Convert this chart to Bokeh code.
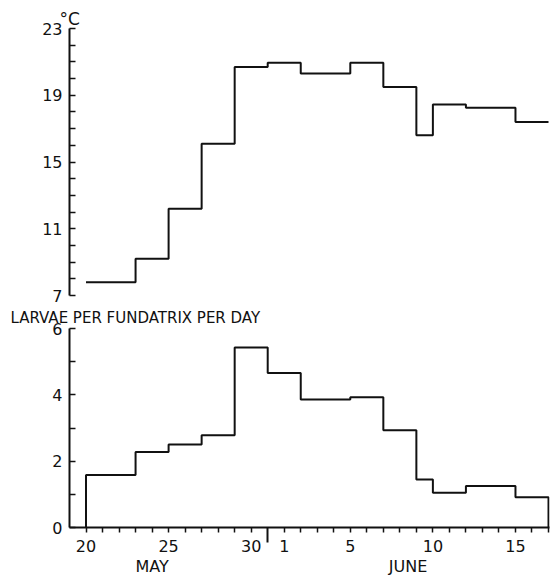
from bokeh.plotting import figure
from bokeh.layouts import column
from bokeh.models import FixedTicker, Range1d, LinearAxis
from bokeh.embed import file_html
from bokeh.resources import INLINE

# ---- data (day index: 0 = 20 May, 12 = 1 June) ----
edges = [0, 3, 5, 7, 9, 11, 13, 16, 18, 20, 21, 23, 26, 28]
temperature = [7.8, 9.2, 12.2, 16.1, 20.7, 20.95, 20.3, 20.95, 19.5, 16.6, 18.45, 18.25, 17.4]
larvae = [1.58, 2.28, 2.5, 2.78, 5.43, 4.66, 3.86, 3.93, 2.93, 1.45, 1.05, 1.25, 0.91]

month_boundary = [11]
day_ticks = [d for d in range(0, 29) if d not in month_boundary]
label_days = [0, 5, 10, 12, 16, 21, 26]
label_texts = ["20", "25", "30", "1", "5", "10", "15"]
month_names = ["MAY", "JUNE"]
month_pos = [4, 19.5]

temp_ticks = list(range(7, 24))
temp_labels = [7, 11, 15, 19, 23]
larvae_ticks = list(range(0, 7))
larvae_labels = [0, 2, 4, 6]

FONT = "DejaVu Sans"
INK = "#111111"

def steps(e, v):
    xs, ys = [], []
    for i, val in enumerate(v):
        xs += [e[i], e[i + 1]]
        ys += [val, val]
    return xs, ys

def style_y(ax, ticks, labels):
    ax.ticker = FixedTicker(ticks=ticks)
    ax.major_label_overrides = {t: (str(t) if t in labels else "") for t in ticks}
    ax.major_tick_in = 6
    ax.major_tick_out = 0
    ax.minor_tick_line_color = None
    ax.axis_line_width = 2
    ax.axis_line_color = INK
    ax.major_tick_line_color = INK
    ax.major_tick_line_width = 1.5
    ax.major_label_standoff = 7
    ax.major_label_text_font = FONT
    ax.major_label_text_font_size = "16px"
    ax.major_label_text_color = INK

xr = Range1d(-1, 28.06)

# ---- top panel: temperature ----
top = figure(width=550, height=305, x_range=xr, y_range=Range1d(7, 23),
             output_backend="svg", toolbar_location=None, x_axis_location=None,
             min_border_left=69, min_border_right=1, min_border_top=28, min_border_bottom=10)
top.outline_line_color = None
top.grid.visible = False
tx, ty = steps(edges, temperature)
top.line(tx, ty, line_color=INK, line_width=2)
style_y(top.yaxis[0], temp_ticks, temp_labels)
top.title.text = "°C"
top.title.align = "left"
top.title.offset = -10
top.title.standoff = 0
top.title.text_font = FONT
top.title.text_font_size = "17px"
top.title.text_font_style = "normal"
top.title.text_color = INK

# ---- bottom panel: larvae ----
bot = figure(width=550, height=274, x_range=xr, y_range=Range1d(0, 6),
             output_backend="svg", toolbar_location=None,
             min_border_left=69, min_border_right=1, min_border_top=22, min_border_bottom=52)
bot.outline_line_color = None
bot.grid.visible = False
bx, by = steps(edges, larvae)
bx = [edges[0]] + bx + [edges[-1]]
by = [0] + by + [0]
bot.line(bx, by, line_color=INK, line_width=2)
style_y(bot.yaxis[0], larvae_ticks, larvae_labels)

bot.title.text = "LARVAE PER FUNDATRIX PER DAY"
bot.title.align = "left"
bot.title.offset = -59
bot.title.standoff = 3
bot.title.text_font = FONT
bot.title.text_font_size = "15px"
bot.title.text_font_style = "normal"
bot.title.text_color = INK

xa = bot.xaxis[0]
xa.ticker = FixedTicker(ticks=day_ticks, minor_ticks=month_boundary)
ov = {d: "" for d in day_ticks}
ov.update({d: t for d, t in zip(label_days, label_texts)})
xa.major_label_overrides = ov
xa.major_tick_in = 0
xa.major_tick_out = 5
xa.minor_tick_in = 0
xa.minor_tick_out = 15
xa.minor_tick_line_width = 2
xa.minor_tick_line_color = INK
xa.axis_line_width = 2
xa.axis_line_color = INK
xa.major_tick_line_color = INK
xa.major_tick_line_width = 1.5
xa.major_label_standoff = -3
xa.major_label_text_font = FONT
xa.major_label_text_font_size = "16px"
xa.major_label_text_color = INK

months = LinearAxis(ticker=FixedTicker(ticks=month_pos),
                    major_label_overrides={p: n for p, n in zip(month_pos, month_names)},
                    axis_line_color=None, major_tick_line_color=None,
                    minor_tick_line_color=None, major_tick_in=0, major_tick_out=0,
                    major_label_standoff=2, major_label_text_font=FONT,
                    major_label_text_font_size="16px", major_label_text_color=INK)
bot.add_layout(months, "below")

layout = column(top, bot, spacing=0)
open("out.html", "w").write(file_html(layout, INLINE))
